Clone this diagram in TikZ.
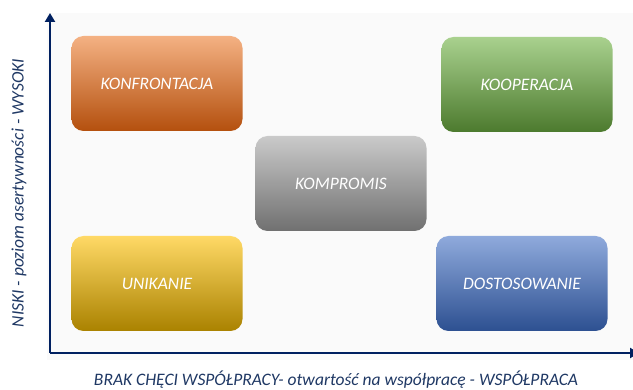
\documentclass[tikz,border=0pt]{standalone}
\usepackage{fontspec}
\setmainfont{Carlito}
\usetikzlibrary{positioning,arrows.meta}

\definecolor{navy}{HTML}{002060}
\definecolor{labelblue}{HTML}{1F3864}
\definecolor{panel}{HTML}{FAFAFA}

\begin{document}
\begin{tikzpicture}[x=1pt,y=1pt,node distance = 100pt and 184pt, on grid]
\tikzstyle{box} = [rounded corners=12pt, minimum width=171pt, minimum height=95pt,
  text=white, font=\itshape\fontsize{17.5}{20}\selectfont]
\tikzstyle{axis} = [navy, line width=2.6pt, -{Triangle[length=9pt,width=10pt]}]
\tikzstyle{lbl} = [text=labelblue, font=\itshape\fontsize{17.5}{20}\selectfont]
\useasboundingbox (0,0) rectangle (633,-390);
\fill[panel] (47,-13) rectangle (633,-360);
% the five styles
\node(kompromis)[box, top color={rgb,255:red,202;green,202;blue,202}, middle color={rgb,255:red,165;green,165;blue,165}, bottom color={rgb,255:red,112;green,112;blue,112}] at (341,-183.5) {KOMPROMIS};
\node(konfrontacja)[box, above left = of kompromis, top color={rgb,255:red,244;green,177;blue,131}, middle color={rgb,255:red,237;green,125;blue,49}, bottom color={rgb,255:red,180;green,80;blue,14}] {KONFRONTACJA};
\node(kooperacja)[box, above right = 99pt and 186pt of kompromis, top color={rgb,255:red,169;green,209;blue,142}, middle color={rgb,255:red,112;green,173;blue,71}, bottom color={rgb,255:red,76;green,122;blue,46}] {KOOPERACJA};
\node(unikanie)[box, below left = of kompromis, top color={rgb,255:red,255;green,217;blue,102}, middle color={rgb,255:red,255;green,192;blue,0}, bottom color={rgb,255:red,170;green,130;blue,0}] {UNIKANIE};
\node(dostosowanie)[box, below right = 100pt and 181pt of kompromis, top color={rgb,255:red,143;green,170;blue,220}, middle color={rgb,255:red,68;green,114;blue,196}, bottom color={rgb,255:red,45;green,80;blue,145}] {DOSTOSOWANIE};
% axes
\coordinate(origin) at (50,-353);
\coordinate(ytop) at (50,-13);
\coordinate(xend) at (639,-353);
\draw[axis] (origin) -- (ytop);
\draw[axis] (origin) -- (xend);
\draw[navy, line width=2.6pt] (50,-351.7) -- (origin);
\node(ylabel)[lbl, rotate=90] at (19,-193) {NISKI - poziom asertywności - WYSOKI};
\node(xlabel)[lbl] at (336,-380) {BRAK CHĘCI WSPÓŁPRACY- otwartość na współpracę - WSPÓŁPRACA};
\end{tikzpicture}
\end{document}
